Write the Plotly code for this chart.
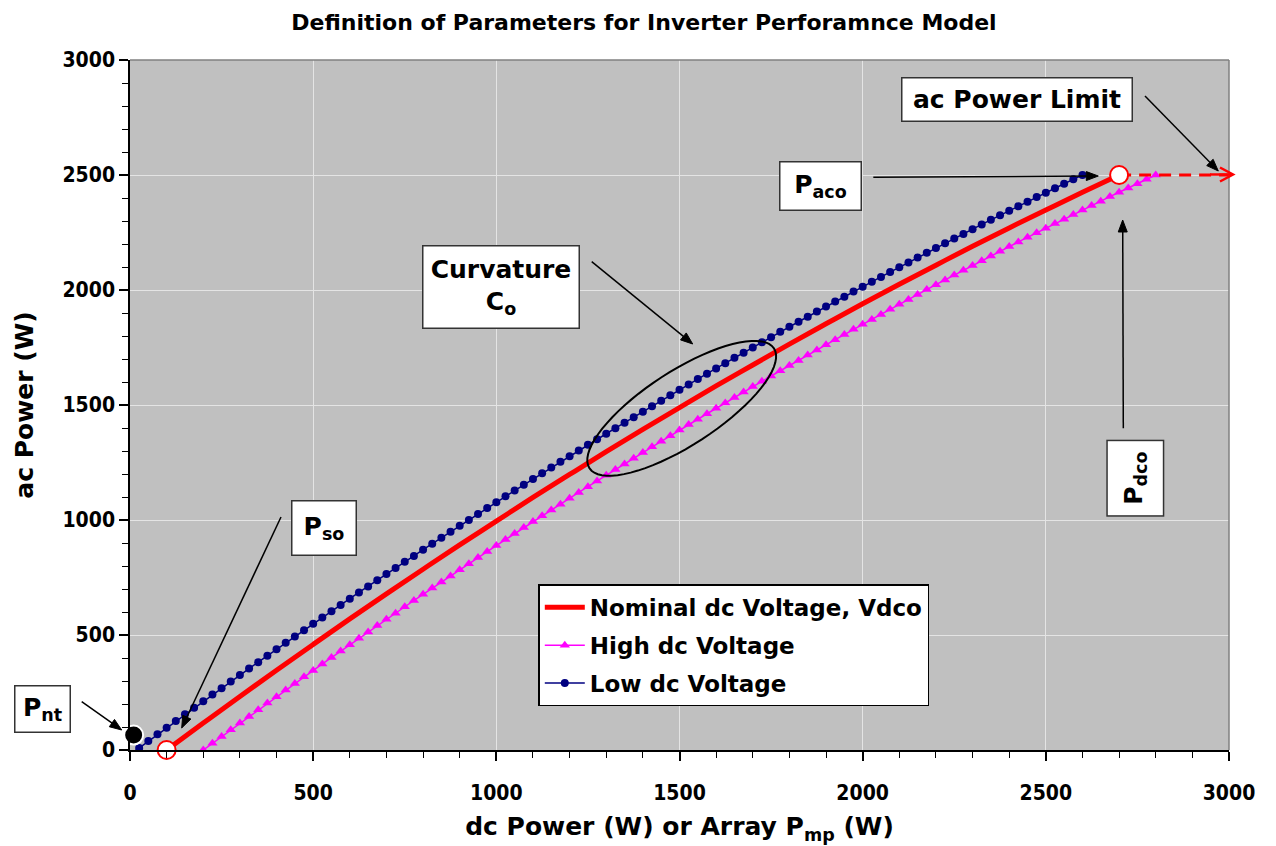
import numpy as np
import plotly.graph_objects as go

title_text = "Definition of Parameters for Inverter Perforamnce Model"

# Nominal dc voltage curve (dc W -> ac W)
nominal_dc = list(range(100, 2800, 100))
nominal_ac = [0, 117, 233, 347, 459, 570, 679, 786, 892, 995, 1098, 1198, 1297, 1394,
              1489, 1583, 1674, 1765, 1853, 1940, 2025, 2108, 2190, 2270, 2348, 2425, 2500]

# High dc voltage curve
high_dc = list(range(200, 2825, 25))
high_ac = [0, 29, 59, 88, 117, 146, 175, 204, 232, 261,
           289, 318, 346, 374, 402, 430, 458, 486, 513, 541,
           568, 595, 623, 650, 677, 704, 730, 757, 784, 810,
           837, 863, 889, 915, 941, 967, 993, 1018, 1044, 1069,
           1095, 1120, 1145, 1170, 1195, 1220, 1244, 1269, 1294, 1318,
           1342, 1366, 1391, 1415, 1438, 1462, 1486, 1509, 1533, 1556,
           1580, 1603, 1626, 1649, 1672, 1694, 1717, 1739, 1762, 1784,
           1806, 1829, 1851, 1872, 1894, 1916, 1938, 1959, 1980, 2002,
           2023, 2044, 2065, 2086, 2107, 2127, 2148, 2168, 2189, 2209,
           2229, 2249, 2269, 2289, 2308, 2328, 2348, 2367, 2386, 2406,
           2425, 2444, 2462, 2481, 2500]

# Low dc voltage curve
low_dc = list(range(0, 2625, 25))
low_ac = [-20, 9, 39, 68, 97, 126, 155, 184, 212, 241,
          269, 298, 326, 354, 382, 410, 438, 466, 494, 521,
          549, 576, 603, 630, 658, 685, 711, 738, 765, 791,
          818, 844, 871, 897, 923, 949, 975, 1000, 1026, 1052,
          1077, 1103, 1128, 1153, 1178, 1203, 1228, 1253, 1277, 1302,
          1327, 1351, 1375, 1399, 1423, 1447, 1471, 1495, 1519, 1542,
          1566, 1589, 1613, 1636, 1659, 1682, 1705, 1727, 1750, 1773,
          1795, 1818, 1840, 1862, 1884, 1906, 1928, 1950, 1971, 1993,
          2014, 2036, 2057, 2078, 2099, 2120, 2141, 2162, 2183, 2203,
          2224, 2244, 2264, 2285, 2305, 2325, 2345, 2364, 2384, 2404,
          2423, 2442, 2462, 2481, 2500]

# ac power limit line
limit_dc = [2700, 3000]
limit_ac = [2500, 2500]

# key points: Pso and (Pdco, Paco)
key_dc = [100, 2700]
key_ac = [0, 2500]

# night tare point
pnt_dc = [10]
pnt_ac = [65]

legend_names = ["Nominal dc Voltage, Vdco", "High dc Voltage", "Low dc Voltage"]

x_ticks = [0, 500, 1000, 1500, 2000, 2500, 3000]
y_ticks = [0, 500, 1000, 1500, 2000, 2500, 3000]

# ---------------- layout geometry (pixels) ----------------
W, H = 1276, 846
PL, PR, PT, PB = 130, 1229, 60, 750


def pp(px, py):
    return (px - PL) / (PR - PL), (PB - py) / (PB - PT)


def pd(px, py):
    return (px - PL) / (PR - PL) * 3000, (PB - py) / (PB - PT) * 3000


F_TICK = "Liberation Sans Narrow, Arial Narrow, DejaVu Sans Condensed, sans-serif"
F_MAIN = "DejaVu Sans, Verdana, sans-serif"

fig = go.Figure()

fig.add_trace(go.Scatter(x=nominal_dc, y=nominal_ac, mode="lines", name=legend_names[0],
                         line=dict(color="#FF0000", width=5, shape="spline", smoothing=1),
                         legendgroup="a"))
fig.add_trace(go.Scatter(x=high_dc, y=high_ac, mode="lines+markers", name=legend_names[1],
                         line=dict(color="#FF00FF", width=1.5),
                         marker=dict(symbol="triangle-up", size=9, color="#FF00FF"),
                         legendgroup="b"))
fig.add_trace(go.Scatter(x=low_dc, y=low_ac, mode="lines+markers", name=legend_names[2],
                         line=dict(color="#000080", width=1.5),
                         marker=dict(symbol="circle", size=8, color="#000080"),
                         legendgroup="c"))
fig.add_trace(go.Scatter(x=limit_dc, y=limit_ac, mode="lines", showlegend=False,
                         line=dict(color="#FF0000", width=3, dash="12px,8px"),
                         cliponaxis=False))
fig.add_trace(go.Scatter(x=key_dc, y=key_ac, mode="markers", showlegend=False,
                         marker=dict(symbol="circle", size=18, color="white",
                                     line=dict(color="#FF0000", width=2)),
                         cliponaxis=False))
fig.add_trace(go.Scatter(x=pnt_dc, y=pnt_ac, mode="markers", showlegend=False,
                         marker=dict(symbol="circle", size=19, color="black",
                                     line=dict(color="white", width=2)),
                         cliponaxis=False))

# ellipse around curvature region
cx, cy, ea, eb, th = 681.7, 408.3, 110, 37, np.deg2rad(33)
t = np.linspace(0, 2 * np.pi, 73)
ex = cx + ea * np.cos(t) * np.cos(th) - eb * np.sin(t) * np.sin(th)
ey = cy - (ea * np.cos(t) * np.sin(th) + eb * np.sin(t) * np.cos(th))
pts = [pd(a, b) for a, b in zip(ex, ey)]
path = "M " + " L ".join(f"{a:.2f},{b:.2f}" for a, b in pts) + " Z"
shapes = [
    dict(type="path", path=path, xref="x", yref="y", line=dict(color="black", width=2)),
    dict(type="line", xref="paper", yref="paper", x0=0, x1=1, y0=1, y1=1,
         line=dict(color="#808080", width=1.5)),
    dict(type="line", xref="paper", yref="paper", x0=1, x1=1, y0=0, y1=1,
         line=dict(color="#808080", width=1.5)),
]


def arrow(x0, y0, x1, y1, color="black", width=1.5, hl=12, hw=4.5, open_head=False):
    dx, dy = x1 - x0, y1 - y0
    L = float(np.hypot(dx, dy))
    ux, uy = dx / L, dy / L
    bx, by = x1 - ux * hl, y1 - uy * hl
    nx, ny = -uy, ux
    ex0, ey0 = (x1, y1) if open_head else (bx + ux * 2, by + uy * 2)
    a0 = pp(x0, y0)
    a1 = pp(ex0, ey0)
    shapes.append(dict(type="line", xref="paper", yref="paper", x0=a0[0], y0=a0[1],
                       x1=a1[0], y1=a1[1], line=dict(color=color, width=width)))
    p1 = pp(bx + nx * hw, by + ny * hw)
    p2 = pp(x1, y1)
    p3 = pp(bx - nx * hw, by - ny * hw)
    if open_head:
        path = f"M {p1[0]},{p1[1]} L {p2[0]},{p2[1]} L {p3[0]},{p3[1]}"
        shapes.append(dict(type="path", xref="paper", yref="paper", path=path,
                           line=dict(color=color, width=width)))
    else:
        path = f"M {p1[0]},{p1[1]} L {p2[0]},{p2[1]} L {p3[0]},{p3[1]} Z"
        shapes.append(dict(type="path", xref="paper", yref="paper", path=path,
                           fillcolor=color, line=dict(color=color, width=1)))


arrow(81.7, 701.7, 121.7, 730)
arrow(281, 517, 181.7, 728)
arrow(591.7, 261.7, 692.7, 344)
arrow(873.3, 177.3, 1098.3, 176)
arrow(1145, 96, 1218.3, 171)
arrow(1123.3, 428.3, 1122.7, 220)
arrow(1210, 174.5, 1233, 174.5, color="#FF0000", width=2.5, hl=13, hw=7, open_head=True)

annotations = []
ANN_FONT = dict(family=F_MAIN, size=25, color="black", weight="bold")


def box(cxp, cyp, w, h, text, angle=0):
    x, y = pp(cxp, cyp)
    pad, bw = 2, 1.5
    if angle:
        ww, hh = h, w
    else:
        ww, hh = w, h
    annotations.append(dict(x=x, y=y, xref="paper", yref="paper", text=text, showarrow=False,
                            bgcolor="white", bordercolor="#333333", borderwidth=bw,
                            borderpad=pad, width=ww - 2 * pad - 2 * bw,
                            height=hh - 2 * pad - 2 * bw, textangle=angle,
                            font=ANN_FONT, xanchor="center", yanchor="middle", align="center"))


box(1017.5, 99.5, 232, 45, "ac Power Limit")
box(820.3, 185.8, 83, 50, "P<sub>aco</sub>")
box(500.8, 287.2, 158, 84, "Curvature<br>C<sub>o</sub>")
box(323.5, 528, 66, 56, "P<sub>so</sub>")
box(42.3, 709, 57, 48, "P<sub>nt</sub>")
box(1135, 478.7, 58, 77, "P<sub>dco</sub>", angle=-90)

axis_common = dict(
    range=[0, 3000], showline=True, linecolor="black", linewidth=1.5,
    ticks="outside", ticklen=9, tickwidth=1.5, tickcolor="black",
    showgrid=True, gridcolor="#E4E4E4", gridwidth=1, zeroline=False,
    automargin=False,
    tickfont=dict(family=F_TICK, size=21, color="black", weight="bold"),
    minor=dict(dtick=100, ticks="outside", ticklen=6, tickwidth=1.2,
               tickcolor="black", showgrid=False),
)

fig.update_layout(
    width=W, height=H,
    margin=dict(l=PL, r=W - PR, t=PT, b=H - PB),
    paper_bgcolor="white", plot_bgcolor="#C0C0C0",
    title=dict(text=title_text, xref="container", yref="container",
               x=644 / W, y=1 - 22 / H, xanchor="center", yanchor="middle",
               font=dict(family=F_MAIN, size=22, color="black", weight="bold")),
    xaxis=dict(axis_common, tickvals=x_ticks, ticklabelstandoff=14,
               title=dict(text="dc Power (W) or Array P<sub>mp</sub> (W)", standoff=14,
                          font=dict(family=F_MAIN, size=25, color="black", weight="bold"))),
    yaxis=dict(axis_common, tickvals=y_ticks,
               title=dict(text="ac Power (W)", standoff=22,
                          font=dict(family=F_MAIN, size=25, color="black", weight="bold"))),
    legend=dict(x=(538.3 - PL) / (PR - PL), y=(PB - 584.3) / (PB - PT),
                xanchor="left", yanchor="top", bgcolor="white", itemwidth=40,
                bordercolor="black", borderwidth=1.5, tracegroupgap=5,
                font=dict(family=F_MAIN, size=23, color="black", weight="bold")),
    shapes=shapes,
    annotations=annotations,
    showlegend=True,
)

fig.write_html("out.html")
